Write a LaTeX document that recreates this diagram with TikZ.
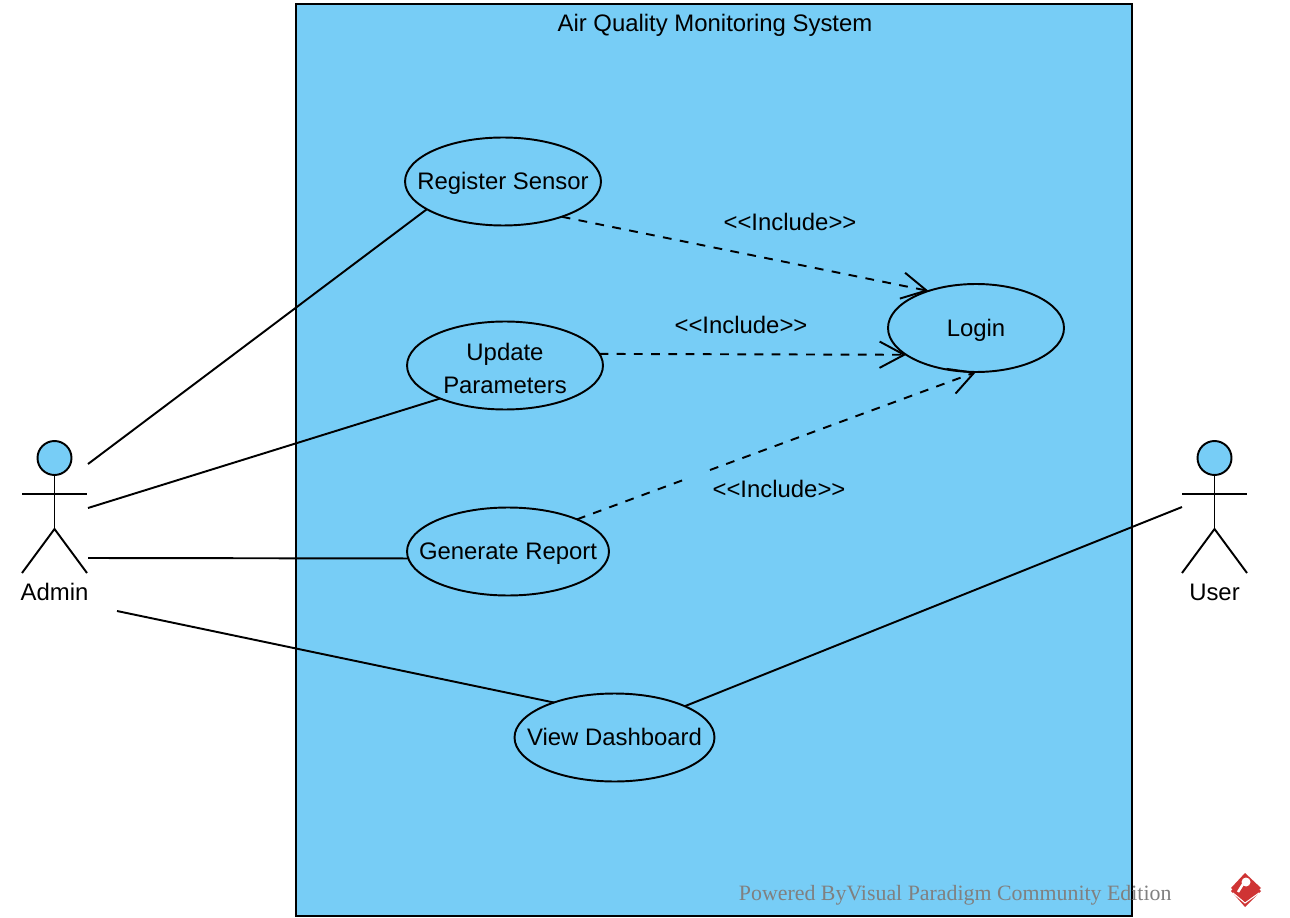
\documentclass[tikz,border=0pt]{standalone}
\usepackage{fontspec}
\setmainfont{Liberation Sans}
\newfontfamily\markfont{Liberation Serif}
\usepackage{tikz}
\usetikzlibrary{arrows.meta}
\usetikzlibrary{shapes.geometric}
\definecolor{skyfill}{HTML}{77CDF6}
\definecolor{logored}{HTML}{CF3434}
\tikzset{usecase/.style = {ellipse, draw, fill=skyfill, inner ysep=0pt, inner xsep=-0.5cm, outer sep=0pt,
                           align=center, minimum height=1.76cm},
         onerow/.style = {execute at begin node={\rule[-3pt]{0pt}{15.5pt}}},
         assoc/.style = {line width=1.1pt},
         incl/.style = {line width=1.1pt, dash pattern=on 5pt off 4.8pt,
                        -{Straight Barb[length=14pt,width=15pt]}},
         inclplain/.style = {line width=1.1pt, dash pattern=on 5pt off 4.8pt},
         lbl/.style = {inner sep=0pt}}

\begin{document}
\begin{tikzpicture}[x=0.02cm, y=-0.02cm, font=\fontsize{13.6}{18.7}\selectfont, line width=1.1pt]
      \useasboundingbox (0, 0) rectangle (1290, 918);
      \fill [white] (0, 0) rectangle (1290, 918);
      \draw [fill=skyfill] (296, 4) rectangle (1132, 916);
      \node (title) [lbl] at (715, 25) {Air Quality Monitoring System};

      \node (sensor) [usecase, onerow, minimum width=3.92cm] at (503, 181.5) {Register Sensor};
      \node (update) [usecase, minimum width=3.92cm] at (505, 365.5) {\rule{0pt}{13.6pt}Update\\Parameters};
      \node (report) [usecase, onerow, minimum width=4.04cm] at (508, 551.5) {Generate Report};
      \node (dashboard) [usecase, onerow, minimum width=4cm] at (614.5, 737.5) {View Dashboard};
      \node (login) [usecase, onerow, minimum width=3.52cm] at (976, 328) {Login};

      \foreach \x/\who/\txt in {54.5/admin/Admin, 1214.5/user/User} {
        \node (\who) [circle, draw, fill=skyfill, inner sep=0pt, minimum size=0.68cm] at (\x, 458) {};
        \node (\who text) [lbl] at (\x, 592) {\txt};
        \coordinate (\who hip) at (\x, 529);
        \draw (\who) -- (\who hip);
        \draw (\x-32.5, 494) -- (\x+32.5, 494);
        \draw (\x-32.5, 573) -- (\who hip) -- (\x+32.5, 573);
      }

      \coordinate (admina) at (88, 464);
      \coordinate (adminb) at (88, 508);
      \coordinate (adminc) at (88, 558);
      \coordinate (admind) at (117, 611);
      \coordinate (usera) at (1182, 507);
      \draw [assoc] (admina) -- (sensor.200.5);
      \draw [assoc] (adminb) -- (update.207.6);
      \draw [assoc] (adminc) -- (report.184);
      \draw [assoc] (admind) -- (dashboard.150);
      \draw [assoc] (usera) -- (dashboard.24.7);

      \coordinate (gapa) at (686, 479);
      \coordinate (gapb) at (710, 470);
      \draw [incl] (sensor.-31.5) -- (login.142.4);
      \draw [incl] (update.7) -- (login.201);
      \draw [inclplain] (report.25) -- (gapa);
      \draw [incl] (gapb) -- (login.270);

      \node (inclone) [lbl] at (790, 222) {<{}<Include>{}>};
      \node (incltwo) [lbl] at (741, 325) {<{}<Include>{}>};
      \node (inclthree) [lbl] at (779, 489) {<{}<Include>{}>};

      \node (powered) [lbl, anchor=west, text=gray, font=\fontsize{12.45}{15}\selectfont] at (738, 895) {\markfont Powered ByVisual Paradigm Community Edition};

      \fill [logored] (1245, 876) -- (1261, 891) -- (1245, 907) -- (1231, 891) -- cycle;
      \draw [white, line width=0.6pt] (1233, 893) -- (1245, 903) -- (1259, 893);
      \fill [logored] (1245, 873) -- (1261, 888) -- (1245, 902) -- (1231, 888) -- cycle;
      \fill [white] (1246, 882) circle (4.5);
      \draw [white, line width=1.4pt] (1243, 884) -- (1238, 892);
    \end{tikzpicture}
\end{document}
